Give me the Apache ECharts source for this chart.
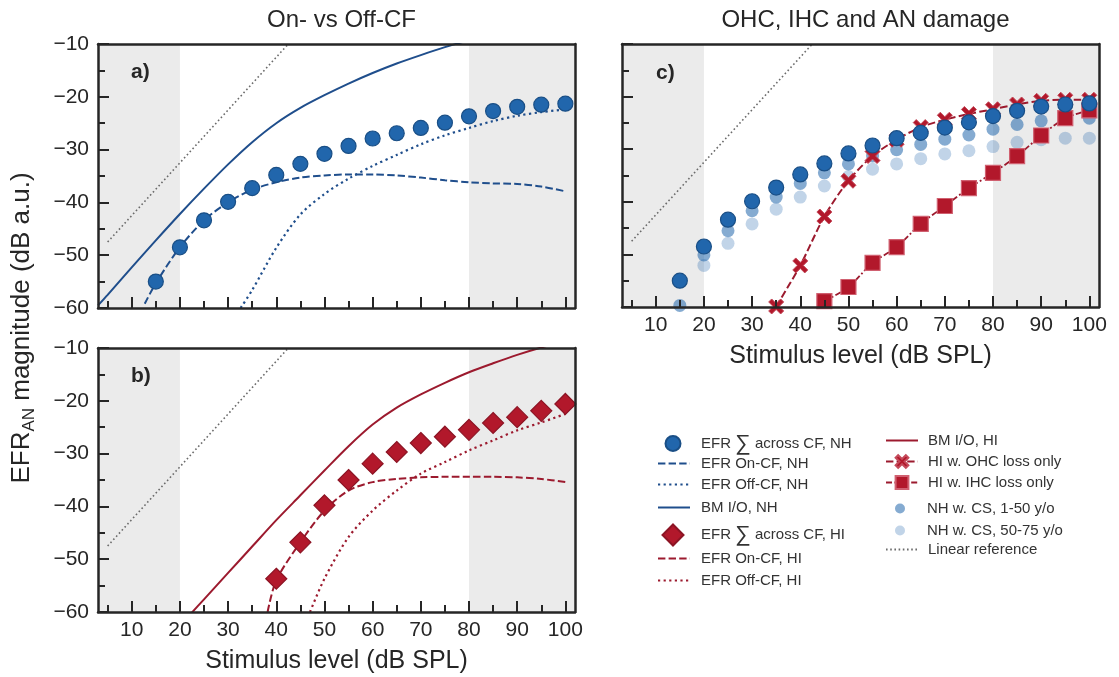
<!DOCTYPE html>
<html><head><meta charset="utf-8">
<script src="https://cdn.jsdelivr.net/npm/echarts@6/dist/echarts.min.js"></script>
<style>html,body{margin:0;padding:0;background:#fff}#c{width:1119px;height:677px}</style>
</head><body><div id="c"></div>
<script>
// ---------- data ----------
const xMajorTicks = [10, 20, 30, 40, 50, 60, 70, 80, 90, 100];
const xMinorTicks = [5, 15, 25, 35, 45, 55, 65, 75, 85, 95];
const shadeLow = [3, 20];
const shadeHigh = [80, 102];

const nhSumX = [15, 20, 25, 30, 35, 40, 45, 50, 55, 60, 65, 70, 75, 80, 85, 90, 95, 100];
const nhSumY = [-55.0, -48.5, -43.4, -39.9, -37.3, -34.8, -32.7, -30.8, -29.3, -27.9, -26.9, -25.9, -24.9, -23.7, -22.7, -21.9, -21.5, -21.3];

const hiSumX = [40, 45, 50, 55, 60, 65, 70, 75, 80, 85, 90, 95, 100];
const hiSumY = [-53.7, -46.8, -39.8, -35.0, -31.9, -29.7, -28.0, -26.8, -25.5, -24.2, -23.1, -21.9, -20.6];

const bmNhX = [3, 5, 10, 15, 20, 25, 30, 35, 40, 45, 50, 55, 60, 65, 70, 75, 80, 85, 90, 95, 100];
const bmNhY = [-59.5, -57.5, -52.3, -47.2, -42.2, -37.4, -32.8, -28.6, -25.0, -22.1, -19.7, -17.5, -15.5, -13.7, -12.1, -10.6, -9.3, -8.1, -7.0, -6.0, -5.1];

const onNhX = [12.7, 15, 20, 25, 30, 35, 40, 45, 50, 55, 60, 65, 70, 75, 80, 85, 90, 95, 100];
const onNhY = [-59.2, -55.3, -48.5, -43.4, -40.0, -37.6, -36.2, -35.3, -34.9, -34.7, -34.7, -34.9, -35.3, -35.8, -36.2, -36.4, -36.5, -37.0, -37.9];

const offNhX = [32.6, 35, 40, 45, 50, 55, 60, 65, 70, 75, 80, 85, 90, 95, 100];
const offNhY = [-60.0, -56.6, -48.6, -42.3, -38.4, -35.5, -33.1, -31.0, -29.0, -27.3, -25.9, -24.6, -23.6, -22.9, -22.4];

const bmHiX = [22, 25, 30, 35, 40, 45, 50, 55, 60, 65, 70, 75, 80, 85, 90, 95, 100];
const bmHiY = [-60.6, -57.6, -52.6, -47.6, -42.6, -37.9, -33.2, -28.6, -24.5, -21.3, -18.8, -16.6, -14.6, -12.9, -11.3, -9.9, -8.7];

const onHiX = [38.2, 40, 45, 50, 55, 60, 65, 70, 75, 80, 85, 90, 95, 100];
const onHiY = [-60.0, -54.0, -46.8, -40.8, -37.0, -35.4, -34.8, -34.5, -34.4, -34.4, -34.4, -34.5, -34.8, -35.4];

const offHiX = [47, 50, 55, 60, 65, 70, 75, 80, 85, 90, 95, 100];
const offHiY = [-60.0, -53.7, -45.8, -40.8, -37.0, -33.8, -31.6, -29.4, -27.5, -25.6, -24.1, -22.5];

const linRefX = [5, 42.5];
const linRefY = [-47.5, -10];

const ohcX = [35, 40, 45, 50, 55, 60, 65, 70, 75, 80, 85, 90, 95, 100];
const ohcY = [-59.9, -52.1, -42.8, -36.0, -31.3, -28.2, -25.8, -24.4, -23.3, -22.4, -21.5, -20.8, -20.6, -20.6];

const ihcX = [45, 50, 55, 60, 65, 70, 75, 80, 85, 90, 95, 100];
const ihcY = [-58.9, -56.2, -51.6, -48.6, -44.2, -40.8, -37.4, -34.5, -31.3, -27.4, -24.1, -22.6];

const cs1X = [15, 20, 25, 30, 35, 40, 45, 50, 55, 60, 65, 70, 75, 80, 85, 90, 95, 100];
const cs1Y = [-59.7, -50.1, -45.5, -41.7, -39.1, -36.5, -34.5, -32.8, -31.3, -30.1, -29.1, -28.1, -27.3, -26.2, -25.3, -24.6, -24.2, -24.1];

const cs2X = [20, 25, 30, 35, 40, 45, 50, 55, 60, 65, 70, 75, 80, 85, 90, 95, 100];
const cs2Y = [-52.1, -47.9, -44.2, -41.4, -39.1, -37.0, -35.2, -33.8, -32.8, -31.8, -30.9, -30.3, -29.5, -28.7, -28.2, -27.9, -27.9];

// ---------- styling ----------
const FONT = '"Liberation Sans", Arial, Helvetica, sans-serif';
const INK = '#262626';
const NH_MARK = '#2166ac', NH_EDGE = '#1a4f86', NH_LINE = '#1f4e8c';
const HI_MARK = '#b2182b', HI_EDGE = '#8c1424', HI_LINE = '#9c1a2e';
const X_PATH = 'path://M0,2L2,0L5,3L8,0L10,2L7,5L10,8L8,10L5,7L2,10L0,8L3,5Z';

const zip = (xs, ys) => xs.map((x, i) => [x, ys[i]]);
const minus = v => String(v).replace('-', '\u2212');

const grids = [
  { left: 98, top: 44, width: 477, height: 264 },
  { left: 98, top: 348, width: 477, height: 264 },
  { left: 622, top: 44, width: 477, height: 263 }
];

const xAxes = [], yAxes = [];
const frame = { show: true, lineStyle: { color: INK, width: 2.5 } };
function addAxes(gi, showX, showY) {
  const base = { gridIndex: gi, type: 'value', min: 3, max: 102, splitLine: { show: false }, z: 10 };
  xAxes.push(Object.assign({}, base, {
    position: 'bottom', axisLine: frame,
    axisTick: { show: true, inside: true, length: 11, customValues: xMajorTicks, lineStyle: { color: INK, width: 2 } },
    axisLabel: { show: showX, customValues: xMajorTicks, fontSize: 21, color: INK, fontFamily: FONT, margin: 8 },
    name: showX ? 'Stimulus level (dB SPL)' : '', nameLocation: 'middle', nameGap: 37,
    nameTextStyle: { fontSize: 25, color: INK, fontFamily: FONT }
  }));
  xAxes.push(Object.assign({}, base, {
    position: 'bottom', axisLine: { show: false },
    axisTick: { show: true, inside: true, length: 7, customValues: xMinorTicks, lineStyle: { color: INK, width: 2 } },
    axisLabel: { show: false }
  }));
  xAxes.push(Object.assign({}, base, {
    position: 'top', axisLine: frame, axisTick: { show: false }, axisLabel: { show: false }
  }));
  const ybase = { gridIndex: gi, type: 'value', min: -60, max: -10, interval: 10, splitLine: { show: false }, minorSplitLine: { show: false }, z: 10 };
  yAxes.push(Object.assign({}, ybase, {
    position: 'left', axisLine: frame,
    axisTick: { show: true, inside: true, length: 11, lineStyle: { color: INK, width: 2 } },
    minorTick: { show: true, splitNumber: 2, length: 7, lineStyle: { color: INK, width: 2 } },
    axisLabel: { show: showY, formatter: minus, fontSize: 21, color: INK, fontFamily: FONT, margin: 9 }
  }));
  yAxes.push(Object.assign({}, ybase, {
    position: 'right', axisLine: frame, axisTick: { show: false }, axisLabel: { show: false }
  }));
}
addAxes(0, false, true);
addAxes(1, true, true);
addAxes(2, true, false);

const series = [];
const common = { animation: false, emphasis: { disabled: true }, silent: true };
function line(gi, name, xs, ys, color, type, width, extra) {
  series.push(Object.assign({
    type: 'line', name, xAxisIndex: gi * 3, yAxisIndex: gi * 2, data: zip(xs, ys),
    symbol: 'none', showSymbol: false, smooth: 0.3,
    lineStyle: { color, width, type }, itemStyle: { color }, z: 3
  }, common, extra || {}));
}
function scatter(gi, name, xs, ys, symbol, size, color, edge, extra) {
  series.push(Object.assign({
    type: 'scatter', name, xAxisIndex: gi * 3, yAxisIndex: gi * 2, data: zip(xs, ys),
    symbol, symbolSize: size, itemStyle: { color, borderColor: edge, borderWidth: 1.2, opacity: 1 }, z: 5
  }, common, extra || {}));
}
const shade = {
  silent: true,
  itemStyle: { color: '#ebebeb' },
  data: [[{ xAxis: shadeLow[0] }, { xAxis: shadeLow[1] }], [{ xAxis: shadeHigh[0] }, { xAxis: shadeHigh[1] }]]
};
const DASH = [7.4, 3.2], DOT = [2.2, 3.4], DASHDOT = [6, 2.4, 1.8, 2.4];
const REF = '#6b6b6b';

// panel a
line(0, 'Linear reference', linRefX, linRefY, REF, [1.6, 2.6], 1.6, { markArea: shade, smooth: false });
line(0, 'BM I/O, NH', bmNhX, bmNhY, NH_LINE, 'solid', 2);
line(0, 'EFR On-CF, NH', onNhX, onNhY, NH_LINE, DASH, 2);
line(0, 'EFR Off-CF, NH', offNhX, offNhY, NH_LINE, DOT, 2.2);
scatter(0, 'EFR \u2211 across CF, NH', nhSumX, nhSumY, 'circle', 15, NH_MARK, NH_EDGE);
// panel b
line(1, 'Linear reference', linRefX, linRefY, REF, [1.6, 2.6], 1.6, { markArea: shade, smooth: false });
line(1, 'BM I/O, HI', bmHiX, bmHiY, HI_LINE, 'solid', 2);
line(1, 'EFR On-CF, HI', onHiX, onHiY, HI_LINE, DASH, 2);
line(1, 'EFR Off-CF, HI', offHiX, offHiY, HI_LINE, DOT, 2.2);
scatter(1, 'EFR \u2211 across CF, HI', hiSumX, hiSumY, 'diamond', 21, HI_MARK, HI_EDGE);
// panel c
line(2, 'Linear reference', linRefX, linRefY, REF, [1.6, 2.6], 1.6, { markArea: shade, smooth: false });
scatter(2, 'NH w. CS, 50-75 y/o', cs2X, cs2Y, 'circle', 13, NH_MARK, 'transparent', { itemStyle: { color: NH_MARK, opacity: 0.28 }, z: 4 });
scatter(2, 'NH w. CS, 1-50 y/o', cs1X, cs1Y, 'circle', 13, NH_MARK, 'transparent', { itemStyle: { color: NH_MARK, opacity: 0.55 }, z: 4 });
line(2, 'HI w. OHC loss only', ohcX, ohcY, HI_LINE, DASH, 2, {
  symbol: X_PATH, showSymbol: true, symbolSize: 15,
  itemStyle: { color: HI_MARK, borderColor: '#c44a5a', borderWidth: 1 }, z: 5
});
line(2, 'HI w. IHC loss only', ihcX, ihcY, HI_LINE, DASHDOT, 1.8, {
  symbol: 'rect', showSymbol: true, symbolSize: 15,
  itemStyle: { color: HI_MARK, borderColor: '#d06070', borderWidth: 1.2 }, z: 5
});
scatter(2, 'EFR \u2211 across CF, NH', nhSumX, nhSumY, 'circle', 15, NH_MARK, NH_EDGE, { z: 6 });

// ---------- legends ----------
const legends = [];
function leg(name, left, cy, iw, ih, pad, hideSymbol) {
  const l = {
    data: [name], left, top: cy - ih / 2, itemWidth: iw, itemHeight: ih, orient: 'vertical',
    selectedMode: false, padding: 0, itemGap: 0,
    formatter: n => n.replace('\u2211', '{s|\u2211}'),
    textStyle: { fontSize: 15, color: '#333', fontFamily: FONT, padding: [0, 0, 0, pad],
      rich: { s: { fontSize: 22, color: '#333', fontFamily: FONT } } }
  };
  if (hideSymbol) l.itemStyle = { opacity: 0 };
  legends.push(l);
}
leg('EFR \u2211 across CF, NH', 664.5, 440, 15, 15, 15.5, false);
leg('EFR On-CF, NH', 657, 463, 32, 14, 6, true);
leg('EFR Off-CF, NH', 657, 484, 32, 14, 6, true);
leg('BM I/O, NH', 657, 507, 32, 14, 6, true);
leg('EFR \u2211 across CF, HI', 661.5, 534, 21, 21, 12.5, false);
leg('EFR On-CF, HI', 657, 558, 32, 14, 6, true);
leg('EFR Off-CF, HI', 657, 580, 32, 14, 6, true);
leg('BM I/O, HI', 885, 440, 32, 14, 5, true);
leg('HI w. OHC loss only', 885, 462, 32, 16, 5, false);
leg('HI w. IHC loss only', 885, 483, 32, 16, 5, false);
leg('NH w. CS, 1-50 y/o', 895, 506, 10, 10, 17, false);
leg('NH w. CS, 50-75 y/o', 895, 528, 10, 10, 17, false);
leg('Linear reference', 885, 549, 32, 14, 5, true);

const option = {
  animation: false,
  backgroundColor: '#ffffff',
  textStyle: { fontFamily: FONT },
  title: [
    { text: 'On- vs Off-CF', left: 336.5, top: 3, textAlign: 'center', textStyle: { fontSize: 24, fontWeight: 'normal', color: INK, fontFamily: FONT } },
    { text: 'OHC, IHC and AN damage', left: 860.5, top: 3, textAlign: 'center', textStyle: { fontSize: 24, fontWeight: 'normal', color: INK, fontFamily: FONT } },
    { text: 'a)', left: 126, top: 57, textStyle: { fontSize: 21, fontWeight: 'bold', color: INK, fontFamily: FONT } },
    { text: 'b)', left: 126, top: 361, textStyle: { fontSize: 21, fontWeight: 'bold', color: INK, fontFamily: FONT } },
    { text: 'c)', left: 651, top: 58, textStyle: { fontSize: 21, fontWeight: 'bold', color: INK, fontFamily: FONT } }
  ],
  grid: grids,
  xAxis: xAxes,
  yAxis: yAxes,
  legend: legends,
  series,
  graphic: [{
    type: 'text', x: 22, y: 328, rotation: Math.PI / 2, silent: true,
    style: {
      text: '{m|EFR}{sub|AN}{m| magnitude (dB a.u.)}',
      align: 'center', verticalAlign: 'middle', fill: INK, fontFamily: FONT, fontSize: 26,
      rich: {
        m: { fontSize: 26, lineHeight: 32, verticalAlign: 'middle', fill: INK, fontFamily: FONT },
        sub: { fontSize: 17, lineHeight: 17, verticalAlign: 'bottom', fill: INK, fontFamily: FONT }
      }
    }
  }]
};
const chart = echarts.init(document.getElementById('c'), null, { renderer: 'canvas' });
chart.setOption(option);
</script></body></html>
